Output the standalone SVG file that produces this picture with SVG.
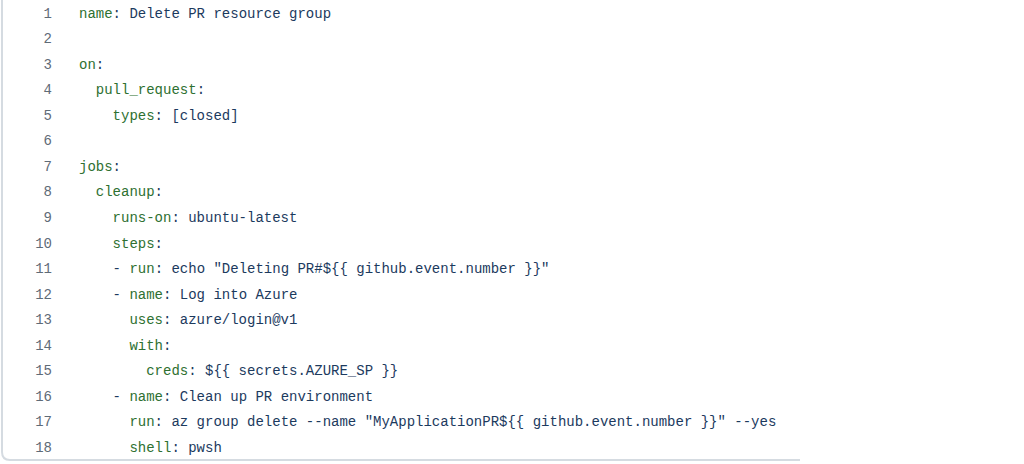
<svg xmlns="http://www.w3.org/2000/svg" width="1024" height="464" viewBox="0 0 1024 464">
<style>
text{font-family:"Liberation Mono","DejaVu Sans Mono",monospace;font-size:14px;white-space:pre}
.ln{fill:#5f6b77;text-anchor:end}
.c{fill:#1c3a5e}
.k{fill:#2e7031}
.frame{fill:none;stroke:#d5dbe1;stroke-width:2}
</style>
<rect width="1024" height="464" fill="#ffffff"/>
<path class="frame" d="M2,0 V452 Q2,460 10,460 H800"/>
<g id="line-numbers">
<text class="ln" x="52" y="17.5">1</text>
<text class="ln" x="52" y="43">2</text>
<text class="ln" x="52" y="68.6">3</text>
<text class="ln" x="52" y="94.2">4</text>
<text class="ln" x="52" y="119.7">5</text>
<text class="ln" x="52" y="145.3">6</text>
<text class="ln" x="52" y="170.8">7</text>
<text class="ln" x="52" y="196.4">8</text>
<text class="ln" x="52" y="221.9">9</text>
<text class="ln" x="52" y="247.5">10</text>
<text class="ln" x="52" y="273">11</text>
<text class="ln" x="52" y="298.6">12</text>
<text class="ln" x="52" y="324.2">13</text>
<text class="ln" x="52" y="349.7">14</text>
<text class="ln" x="52" y="375.3">15</text>
<text class="ln" x="52" y="400.8">16</text>
<text class="ln" x="52" y="426.4">17</text>
<text class="ln" x="52" y="451.9">18</text>
</g>
<g id="code" xml:space="preserve">
<text class="c" x="79" y="17.5"><tspan class="k">name</tspan>: Delete PR resource group</text>
<text class="c" x="79" y="68.6"><tspan class="k">on</tspan>:</text>
<text class="c" x="95.8" y="94.2"><tspan class="k">pull_request</tspan>:</text>
<text class="c" x="112.6" y="119.7"><tspan class="k">types</tspan>: [closed]</text>
<text class="c" x="79" y="170.8"><tspan class="k">jobs</tspan>:</text>
<text class="c" x="95.8" y="196.4"><tspan class="k">cleanup</tspan>:</text>
<text class="c" x="112.6" y="221.9"><tspan class="k">runs-on</tspan>: ubuntu-latest</text>
<text class="c" x="112.6" y="247.5"><tspan class="k">steps</tspan>:</text>
<text class="c" x="112.6" y="273">- <tspan class="k">run</tspan>: echo "Deleting PR#${{ github.event.number }}"</text>
<text class="c" x="112.6" y="298.6">- <tspan class="k">name</tspan>: Log into Azure</text>
<text class="c" x="129.4" y="324.2"><tspan class="k">uses</tspan>: azure/login@v1</text>
<text class="c" x="129.4" y="349.7"><tspan class="k">with</tspan>:</text>
<text class="c" x="146.2" y="375.3"><tspan class="k">creds</tspan>: ${{ secrets.AZURE_SP }}</text>
<text class="c" x="112.6" y="400.8">- <tspan class="k">name</tspan>: Clean up PR environment</text>
<text class="c" x="129.4" y="426.4"><tspan class="k">run</tspan>: az group delete --name "MyApplicationPR${{ github.event.number }}" --yes</text>
<text class="c" x="129.4" y="451.9"><tspan class="k">shell</tspan>: pwsh</text>
</g>
</svg>
